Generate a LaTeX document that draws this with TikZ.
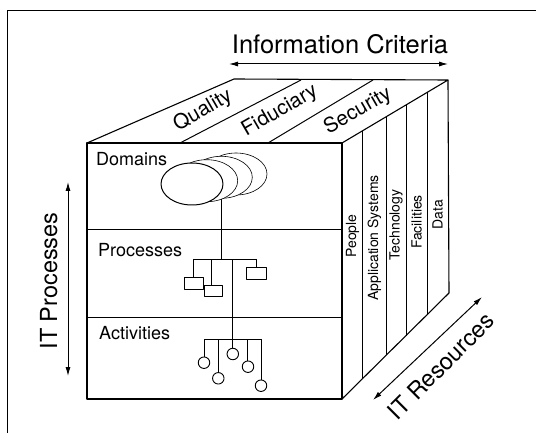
\documentclass[tikz,border=0pt]{standalone}
\usepackage{fontspec}
\setmainfont{TeX Gyre Heros}
\usetikzlibrary{arrows.meta,shapes.geometric}
\begin{document}
\begin{tikzpicture}[x=1pt,y=-1pt,line join=round,
  edge/.style={line width=1.1pt},
  divider/.style={line width=1pt},
  dbl/.style={line width=1pt,{Latex[length=9pt,width=5pt]}-{Latex[length=9pt,width=5pt]}},
  big/.style={font=\fontsize{25.5}{28}\selectfont,inner sep=0pt},
  axis/.style={font=\fontsize{23.5}{26}\selectfont,inner sep=0pt},
  crit/.style={font=\fontsize{20.5}{22}\selectfont,inner sep=0pt,rotate=30},
  level/.style={font=\fontsize{18}{20}\selectfont,inner sep=0pt,anchor=base west},
  res/.style={font=\fontsize{14}{16}\selectfont,inner sep=0pt,rotate=90},
  domshape/.style={draw,ellipse,minimum width=62pt,minimum height=42pt,inner sep=0pt,fill=white,line width=0.6pt},
  procbox/.style={draw,line width=0.9pt,minimum width=19pt,minimum height=11.5pt,inner sep=0pt,fill=white},
  actcircle/.style={draw,circle,line width=0.9pt,minimum size=11.5pt,inner sep=0pt},
  tree/.style={line width=0.9pt}
]
\useasboundingbox (0,0) rectangle (536,433);

% outer frame
\draw[line width=0.8pt] (7,433) -- (7,10) -- (536,10);

% cube faces
\draw[edge] (87,143) rectangle (342,399);
\draw[edge] (87,143) -- (234,79) -- (448,80) -- (342,143);
\draw[edge] (342,399) -- (449,293) -- (448,80);

% levels of the front face
\draw[divider] (87,230) -- (342,230);
\draw[divider] (87,317) -- (342,317);

% criteria strips on the top face
\draw[divider] (180,143) -- (301,80);
\draw[divider] (268,143) -- (373,80);

% resource strips on the side face
\draw[divider] (362.7,130.7) -- (362.7,378.5);
\draw[divider] (386,116.8) -- (386,355.4);
\draw[divider] (406,105) -- (406,335.6);
\draw[divider] (427,92.5) -- (427,314.8);

% axis titles and arrows
\node[big,anchor=base] (crittitle) at (340,54) {Information Criteria};
\coordinate (critL) at (229,64);
\coordinate (critR) at (448,64);
\draw[dbl] (critL) -- (critR);

\node[axis,anchor=base,rotate=90] (proctitle) at (57,281) {IT Processes};
\coordinate (procT) at (68,182);
\coordinate (procB) at (68,376);
\draw[dbl] (procT) -- (procB);

\node[axis,rotate=45] (restitle) at (441,366) {IT Resources};
\coordinate (resL) at (373,400);
\coordinate (resR) at (482,297);
\draw[dbl] (resL) -- (resR);

% criteria labels
\node[crit] (quality) at (203,111) {Quality};
\node[crit] (fiduciary) at (280,111) {Fiduciary};
\node[crit] (security) at (358,111) {Security};

% resource labels
\node[res] (people) at (352.5,236) {People};
\node[res] (appsys) at (374.5,238) {Application Systems};
\node[res] (tech) at (396,225) {Technology};
\node[res] (facil) at (416.5,222) {Facilities};
\node[res] (data) at (437.5,215) {Data};

% level labels
\node[level] (domains) at (96,166) {Domains};
\node[level] (processes) at (98,256) {Processes};
\node[level] (activities) at (99,339) {Activities};

% stacked domains
\node[domshape] (dom4) at (236,174) {};
\node[domshape] (dom3) at (221.3,177.3) {};
\node[domshape] (dom2) at (206.7,180.7) {};
\node[domshape,line width=1pt] (dom1) at (192,184) {};

% process tree
\coordinate (dtrunk) at (221,199);
\coordinate (pmid) at (221,259);
\coordinate (pbL) at (193,259);
\coordinate (pb2) at (211.7,259);
\coordinate (pb3) at (232.3,259);
\coordinate (pbR) at (256,259);
\node[procbox] (p1) at (193.5,283.2) {};
\node[procbox,minimum width=18.4pt,minimum height=11pt] (p2) at (213.5,291.2) {};
\node[procbox,minimum width=20pt,minimum height=12pt] (p4) at (256,273.3) {};
\draw[tree] (dtrunk) -- (pmid);
\draw[tree] (pbL) -- (pbR);
\draw[tree] (pbL) -- (pbL |- p1.north);
\draw[tree] (pb2) -- (pb2 |- p2.north);
\draw[tree] (pbR) -- (p4.north);

% activity tree
\coordinate (abL) at (204,339);
\coordinate (ab2) at (218.3,339);
\coordinate (ab3) at (232.3,339);
\coordinate (ab4) at (247.3,339);
\coordinate (abR) at (261,339);
\draw[tree] (pb3) -- (ab3);
\draw[tree] (abL) -- (abR);
\node[actcircle] (a1) at (204,362.7) {};
\node[actcircle] (a2) at (218.3,378.3) {};
\node[actcircle] (a3) at (232.8,354) {};
\node[actcircle] (a4) at (248,366.7) {};
\node[actcircle] (a5) at (261,385.7) {};
\draw[tree] (abL) -- (a1.north);
\draw[tree] (ab2) -- (a2.north);
\draw[tree] (ab3) -- (ab3 |- a3.north);
\draw[tree] (ab4) -- (ab4 |- a4.north);
\draw[tree] (abR) -- (a5.north);
\end{tikzpicture}
\end{document}
